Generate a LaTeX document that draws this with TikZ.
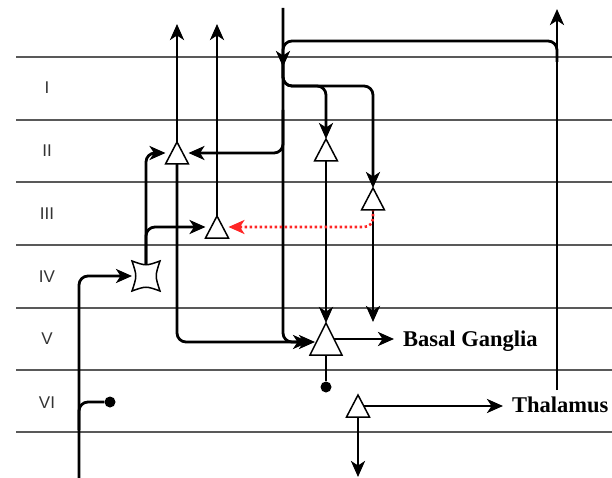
\documentclass[tikz,border=0pt]{standalone}
\usepackage{fontspec}
\setmainfont{Liberation Serif}
\newfontfamily\labelfont{Liberation Sans}
\usetikzlibrary{arrows.meta,calc}
\begin{document}
\begin{tikzpicture}[x=1pt,y=-1pt,
  layer/.style={line width=1.6pt, draw=black!65},
  conn/.style={line width=2.8pt, rounded corners=9pt, -{Stealth[length=16pt,width=14pt,inset=4.5pt]}},
  plain/.style={line width=2.8pt, rounded corners=9pt},
  inh/.style={line width=2.6pt, draw=red!85, dash pattern=on 2.4pt off 2.6pt, rounded corners=9pt, -{Stealth[length=16pt,width=14pt,inset=4.5pt]}},
  box/.style={inner sep=0pt, outer sep=0pt, minimum width=23pt, minimum height=22pt},
  bigbox/.style={box, minimum width=32pt, minimum height=32pt},
  starbox/.style={box, minimum width=28pt, minimum height=30pt},
  body/.style={draw=black, fill=white, line width=1.5pt},
  dot/.style={circle, fill=black, inner sep=0pt, minimum size=11pt},
  roman/.style={font=\labelfont\fontsize{17}{17}\selectfont, text=black!80},
  target/.style={font=\bfseries\fontsize{22.5}{22.5}\selectfont, inner xsep=9pt, inner ysep=0pt, anchor=base west},
]
\useasboundingbox (0,0) rectangle (612,478);
\fill[white] (0,0) rectangle (612,478);

% cortical layers
\foreach \y in {57,120,182,245,308,370,432} \draw[layer] (16,\y) -- (612,\y);
\node[roman] (L1) at (47,88) {I};
\node[roman] (L2) at (47,151) {II};
\node[roman] (L3) at (47,214) {III};
\node[roman] (L4) at (47,277) {IV};
\node[roman] (L5) at (47,339) {V};
\node[roman] (L6) at (47,403) {VI};

% cells
\node[box] (A) at (177,153) {};
\node[box] (B) at (217,227) {};
\node[box] (D) at (326,150) {};
\node[box] (E) at (373,199) {};
\node[box] (F) at (358,406) {};
\node[bigbox] (C) at (326,339) {};
\node[starbox] (S) at (146,276) {};
\node[dot] (dC) at (326,387) {};
\node[dot] (dI) at (110,402) {};
\node[target] (BG) at (394,346) {Basal Ganglia};
\node[target] (TH) at (503,412) {Thalamus};

% free ends and waypoints
\coordinate (inB) at (79,478);
\coordinate (inT) at (283,8);
\coordinate (Atop) at (177,24);
\coordinate (Btop) at (217,24);
\coordinate (Ttop) at (557,9);
\coordinate (Tbot) at (557,390);
\coordinate (Fbot) at (358,477);
\coordinate (Ebot) at (373,322);
\coordinate (bus) at (0,86);
\coordinate (br1) at (79,430);
\coordinate (br2) at (283,60);
\coordinate (br3) at (283,110);
\coordinate (fbs) at (557,62);
\coordinate (fbc) at (283,41);
\coordinate (fbe) at (283,67);
\coordinate (Cin) at ($(C.west)+(5,3)$);
\coordinate (Cin2) at ($(C.west)+(-1,3)$);

% connectors
\draw[conn] (inB) |- (S.west);
\draw[plain] (br1) |- (dI);
\draw[conn] (S.center) |- (A.west);
\draw[conn] (S.center) |- (B.west);
\draw[conn] (A.center) -- (Atop);
\draw[conn] (B.center) -- (Btop);
\draw[conn] (A.center) |- (Cin2);
\draw[conn] (inT) |- (Cin);
\draw[conn] (br3) |- (A.east);
\draw[conn] (br2) |- (D.north |- bus) -- (D.north);
\draw[conn] (br2) |- (E.north |- bus) -- (E.north);
\draw[conn] (Tbot) -- (Ttop);
\draw[conn] (fbs) |- (fbc) -- (fbe);
\draw[conn] (D.center) -- (C.north);
\draw[conn] (E.center) -- (Ebot);
\draw[conn] (C.center) -- (C.center -| BG.west);
\draw[plain] (C.center) -- (dC);
\draw[conn] (F.center) -- (F.center -| TH.west);
\draw[conn] (F.center) -- (Fbot);
\draw[inh] (E.center) |- (B.east);

% cell bodies
\foreach \n in {A,B,D,E,F,C}
  \draw[body] (\n.south west) -- (\n.north) -- (\n.south east) -- cycle;
\draw[body] (S.north west) .. controls ($(S.north)+(0,5)$) .. (S.north east)
  .. controls ($(S.east)+(-5,0)$) .. (S.south east)
  .. controls ($(S.south)+(0,-5)$) .. (S.south west)
  .. controls ($(S.west)+(5,0)$) .. (S.north west) -- cycle;
\end{tikzpicture}
\end{document}
